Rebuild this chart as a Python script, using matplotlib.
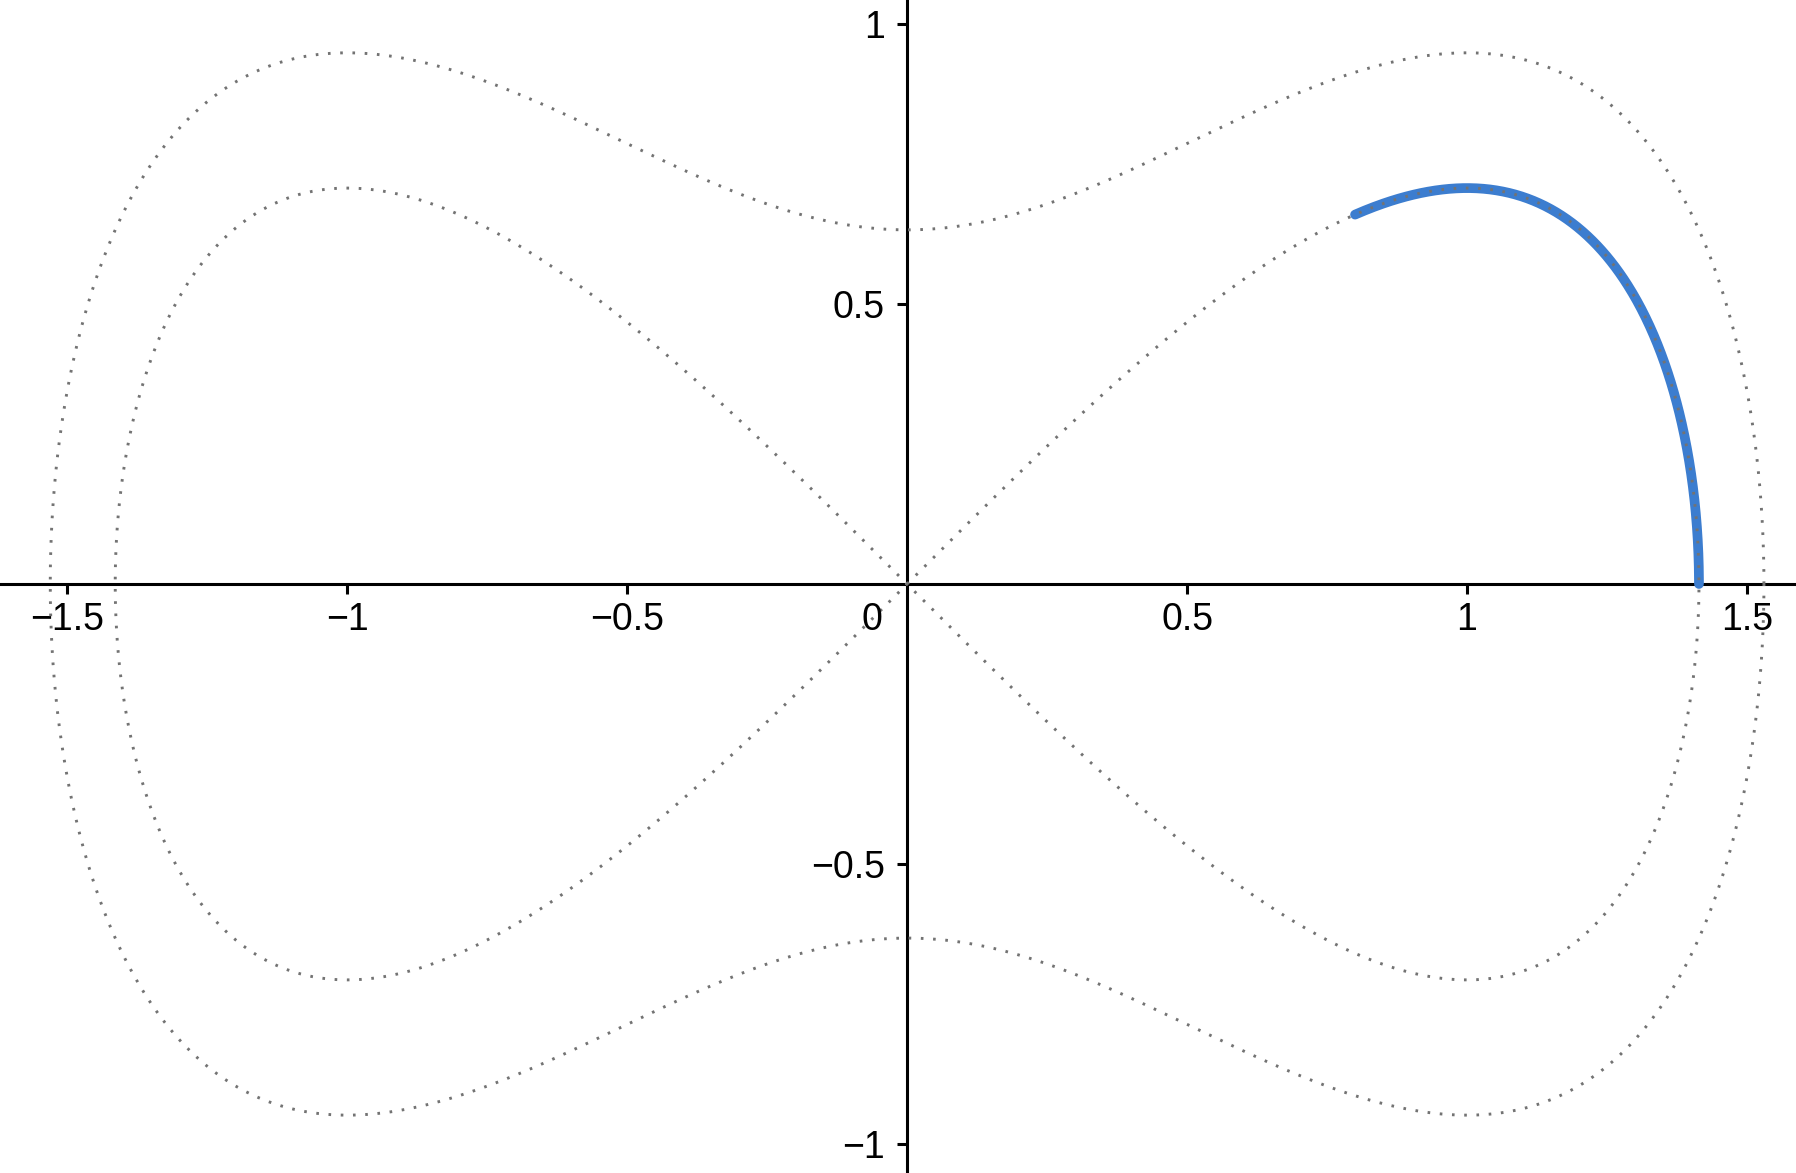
import numpy as np
import matplotlib
matplotlib.use("Agg")
import matplotlib.pyplot as plt

plt.rcParams['font.family'] = ['Liberation Sans', 'DejaVu Sans']

# Duffing-type phase portrait: y^2 = x^2 - x^4/2 + E
energy_levels = [0.0, 0.4]      # separatrix and outer orbit
arc_start_x = 0.8               # highlighted orbit segment start (x)
arc_end_x = np.sqrt(2)          # ends on x axis
xticks = [-1.5, -1, -0.5, 0.5, 1, 1.5]
xtick_labels = ["\u22121.5", "\u22121", "\u22120.5", "0.5", "1", "1.5"]
yticks = [-1, -0.5, 0.5, 1]
ytick_labels = ["\u22121", "\u22120.5", "0.5", "1"]

fig = plt.figure(figsize=(17.96, 11.73), dpi=100)
ax = fig.add_axes([0, 0, 1, 1])
ax.set_xlim(-1.62, 1.5875)
ax.set_ylim(-1.052, 1.043)

# separatrix (figure eight)
t = np.linspace(0, 2 * np.pi, 2000)
xs = np.sqrt(2) * np.sin(t)
ys = np.sin(2 * t) / np.sqrt(2)

# outer orbit in polar form
th = np.linspace(0, 2 * np.pi, 3000)
E = energy_levels[1]
a = np.cos(th) ** 4 / 2
b = -np.cos(2 * th)
u = 2 * E / (b + np.sqrt(b ** 2 + 4 * a * E))
r = np.sqrt(u)
xo = r * np.cos(th)
yo = r * np.sin(th)

dot_style = dict(color='#737373', lw=2.1, linestyle=(0, (0.9, 3.3)), zorder=3)
ax.plot(xs, ys, **dot_style)
ax.plot(xo, yo, **dot_style)

# highlighted arc on separatrix
t0 = np.arcsin(arc_start_x / np.sqrt(2))
t1 = np.arcsin(min(arc_end_x / np.sqrt(2), 1.0))
ta = np.linspace(t0, t1, 400)
ax.plot(np.sqrt(2) * np.sin(ta), np.sin(2 * ta) / np.sqrt(2),
        color='#3c7dcf', lw=7, solid_capstyle='round', zorder=2)

# axes through origin
for s in ['top', 'right']:
    ax.spines[s].set_visible(False)
for s in ['left', 'bottom']:
    ax.spines[s].set_position('zero')
    ax.spines[s].set_linewidth(2.2)
    ax.spines[s].set_zorder(1)

ax.set_xticks(xticks)
ax.set_xticklabels(xtick_labels)
ax.set_yticks(yticks)
ax.set_yticklabels(ytick_labels)
ax.tick_params(axis='both', direction='out', length=7, width=2.2, labelsize=27, pad=6)
ax.tick_params(axis='y', pad=9)
ax.text(-0.062, -0.064, "0", fontsize=27, ha='center', va='center')

fig.savefig("out.png", dpi=100)
